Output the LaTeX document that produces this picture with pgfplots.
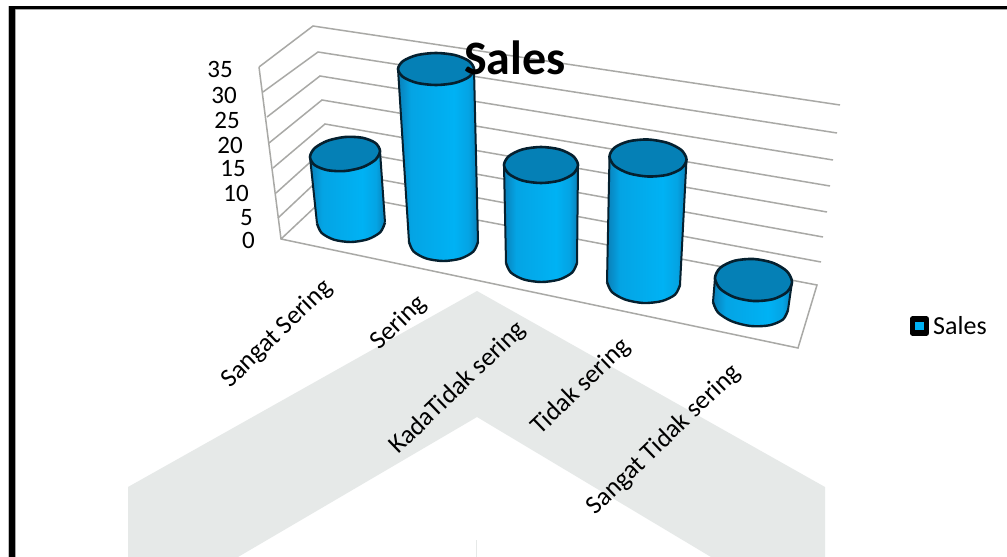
\documentclass[border=0pt]{standalone}
\usepackage{fontspec}
\setmainfont{Carlito}
\usepackage{pgfplots}
\pgfplotsset{compat=1.18}
\usepackage{pgfplotstable}

\definecolor{cylEdge}{HTML}{0A7FB8}
\definecolor{cylBlue}{HTML}{04A4E4}
\definecolor{cylBright}{HTML}{00B2F4}
\definecolor{cylTop}{HTML}{0580B6}
\definecolor{cylLine}{HTML}{05202F}
\definecolor{gridGrey}{HTML}{A9A9A6}
\definecolor{chevron}{HTML}{E6E9E8}

\pgfdeclarehorizontalshading{cylside}{100bp}{
  color(0bp)=(cylEdge); color(25bp)=(cylEdge); color(33bp)=(cylBlue);
  color(60bp)=(cylBright); color(69bp)=(cylBlue); color(75bp)=(cylEdge);
  color(100bp)=(cylEdge)}

% Rim of each cylinder top, in drawing units
\pgfplotstableread{
x y
380 151
375.3 159.9
362.5 167.2
345 171
327.5 170.2
314.7 165.1
310 157
314.7 148.1
327.5 140.8
345 137
362.5 137.8
375.3 142.9
}\topA
\pgfplotstableread{
x y
474 69
468.9 77
455 82.9
436 85
417 82.9
403.1 77
398 69
403.1 61
417 55.1
436 53
455 55.1
468.9 61
}\topB
\pgfplotstableread{
x y
578 165
573 174
559.5 180.6
541 183
522.5 180.6
509 174
504 165
509 156
522.5 149.4
541 147
559.5 149.4
573 156
}\topC
\pgfplotstableread{
x y
686.5 159.5
681.3 168.6
667.3 174.8
648 176.5
628.8 173.3
614.7 166
609.5 156.5
614.7 147.5
628.8 141.3
648 139.5
667.3 142.8
681.3 150
}\topD
\pgfplotstableread{
x y
792 282
786.8 292.2
772.8 299.2
753.5 301
734.3 297.2
720.2 288.8
715 278
720.2 267.8
734.3 260.8
753.5 259
772.8 262.8
786.8 271.2
}\topE

% Front half of each cylinder foot
\pgfplotstableread{
x y
385 222.5
380.4 232.1
368 239.2
351 242
334 239.7
321.6 232.9
317 223.5
}\footA
\pgfplotstableread{
x y
478 242
473.4 251.5
460.8 258.5
443.5 261
426.3 258.5
413.6 251.5
409 242
}\footB
\pgfplotstableread{
x y
577 263
572.2 272.5
559.3 279.5
541.5 282
523.8 279.5
510.8 272.5
506 263
}\footC
\pgfplotstableread{
x y
680 285
675.1 294.6
661.8 301.1
643.5 303
625.3 299.6
611.9 292
607 282
}\footD
\pgfplotstableread{
x y
788 310
783 319.5
769.3 325.3
750.5 326
731.8 321.3
718 312.5
713 302
}\footE

\pgfplotsset{
  grid line/.style={color=gridGrey, line width=1.5pt, no marks, forget plot},
  cyl body/.style={shade, shading=cylside, draw=none, no marks, forget plot},
  cyl under/.style={smooth, fill=cylBlue, draw=none, no marks, forget plot},
  cyl edge/.style={color=cylLine, line width=2pt, no marks, forget plot},
  cyl foot/.style={smooth, color=cylLine, line width=2.4pt, no marks, forget plot},
  cyl top/.style={smooth cycle, fill=cylTop, draw=cylLine, line width=2.6pt, no marks, forget plot},
}
\tikzset{
  value label/.style={anchor=east, inner sep=0pt, font=\fontsize{25}{30}\selectfont},
  name label/.style={rotate=44, inner sep=0pt, font=\fontsize{26}{31}\selectfont},
}

\begin{document}
\begin{tikzpicture}
\begin{axis}[
  at={(0,0)}, anchor=south west,
  width=1007pt, height=557pt, scale only axis,
  xmin=0, xmax=1007, ymin=0, ymax=557, y dir=reverse,
  hide axis, clip=true,
]
% paper and watermark
\addplot[fill=white, draw=none, forget plot] coordinates {(0,0) (1007,0) (1007,557) (0,557)} --cycle;
\addplot[fill=chevron, draw=none, forget plot] coordinates
  {(128,487) (477,291) (825,487) (825,557) (711,557) (477,417) (238,557) (128,557)} --cycle;
\addplot[color=chevron, line width=1pt, forget plot] coordinates {(476,540) (476,557)};
% page frame
\addplot[color=black!25, line width=1pt, forget plot] coordinates {(1007,9.5) (15.5,9.5) (15.5,557)};
\addplot[color=black!25, line width=1pt, forget plot] coordinates {(8.5,557) (8.5,5.5)};
\addplot[fill=black, draw=none, forget plot] coordinates
  {(9,6) (1007,6) (1007,9) (15,9) (15,557) (9,557)} --cycle;

% side wall, back wall and floor
\addplot[grid line] coordinates {(259,67) (281,239) (798,348) (817,285) (331,192) (281,239)};
\addplot[grid line] coordinates {(259,67) (313,26) (840,105)};
\addplot[grid line] coordinates {(263,92) (318,52) (837,133)};
\addplot[grid line] coordinates {(267,117) (320,76) (833,160)};
\addplot[grid line] coordinates {(269,143) (322,100) (830,186)};
\addplot[grid line] coordinates {(273,168) (325,124) (827,212)};
\addplot[grid line] coordinates {(276,193) (327,147) (823,237)};
\addplot[grid line] coordinates {(278,218) (329,170) (821,262)};

% Sangat Sering
\addplot[cyl under] table {\footA} --cycle;
\addplot[cyl body] coordinates {(380,151) (385,222.5) (380.4,232.1) (368,239.2) (351,242) (334,239.7) (321.6,232.9) (317,223.5) (310,157)} --cycle;
\addplot[cyl edge] coordinates {(380,151) (385,222.5)};
\addplot[cyl edge] coordinates {(310,157) (317,223.5)};
\addplot[cyl foot] table {\footA};
\addplot[cyl top] table {\topA};

% Sering
\addplot[cyl under] table {\footB} --cycle;
\addplot[cyl body] coordinates {(474,69) (478,242) (473.4,251.5) (460.8,258.5) (443.5,261) (426.3,258.5) (413.6,251.5) (409,242) (398,69)} --cycle;
\addplot[cyl edge] coordinates {(474,69) (478,242)};
\addplot[cyl edge] coordinates {(398,69) (409,242)};
\addplot[cyl foot] table {\footB};
\addplot[cyl top] table {\topB};

% KadaTidak sering
\addplot[cyl under] table {\footC} --cycle;
\addplot[cyl body] coordinates {(578,165) (577,263) (572.2,272.5) (559.3,279.5) (541.5,282) (523.8,279.5) (510.8,272.5) (506,263) (504,165)} --cycle;
\addplot[cyl edge] coordinates {(578,165) (577,263)};
\addplot[cyl edge] coordinates {(504,165) (506,263)};
\addplot[cyl foot] table {\footC};
\addplot[cyl top] table {\topC};

% Tidak sering
\addplot[cyl under] table {\footD} --cycle;
\addplot[cyl body] coordinates {(686.5,159.5) (680,285) (675.1,294.6) (661.8,301.1) (643.5,303) (625.3,299.6) (611.9,292) (607,282) (609.5,156.5)} --cycle;
\addplot[cyl edge] coordinates {(686.5,159.5) (680,285)};
\addplot[cyl edge] coordinates {(609.5,156.5) (607,282)};
\addplot[cyl foot] table {\footD};
\addplot[cyl top] table {\topD};

% Sangat Tidak sering
\addplot[cyl under] table {\footE} --cycle;
\addplot[cyl body] coordinates {(792,282) (788,310) (783,319.5) (769.3,325.3) (750.5,326) (731.8,321.3) (718,312.5) (713,302) (715,278)} --cycle;
\addplot[cyl edge] coordinates {(792,282) (788,310)};
\addplot[cyl edge] coordinates {(715,278) (713,302)};
\addplot[cyl foot] table {\footE};
\addplot[cyl top] table {\topE};

% legend key
\addplot[only marks, mark=square*, mark size=7pt, forget plot,
  mark options={fill=cylBright, draw=black, line width=5.5pt, line join=round}]
  coordinates {(919.5,326)};

% value axis labels
\node[value label] at (axis cs:233,69) {35};
\node[value label] at (axis cs:237,95) {30};
\node[value label] at (axis cs:240,120) {25};
\node[value label] at (axis cs:243,145) {20};
\node[value label] at (axis cs:246,169) {15};
\node[value label] at (axis cs:249,193) {10};
\node[value label] at (axis cs:253,218) {5};
\node[value label] at (axis cs:255,240) {0};
% category labels
\node[name label] at (axis cs:277,334) {Sangat Sering};
\node[name label] at (axis cs:399,323) {Sering};
\node[name label] at (axis cs:458,388) {KadaTidak sering};
\node[name label] at (axis cs:581,387) {Tidak sering};
\node[name label] at (axis cs:664,440) {Sangat Tidak sering};
\node[anchor=west, inner sep=0pt, font=\fontsize{26}{31}\selectfont] at (axis cs:933,326) {Sales};
\node[inner sep=0pt, font=\fontsize{48}{58}\selectfont\bfseries] at (axis cs:515,58) {Sales};
\end{axis}
\end{tikzpicture}
\end{document}
